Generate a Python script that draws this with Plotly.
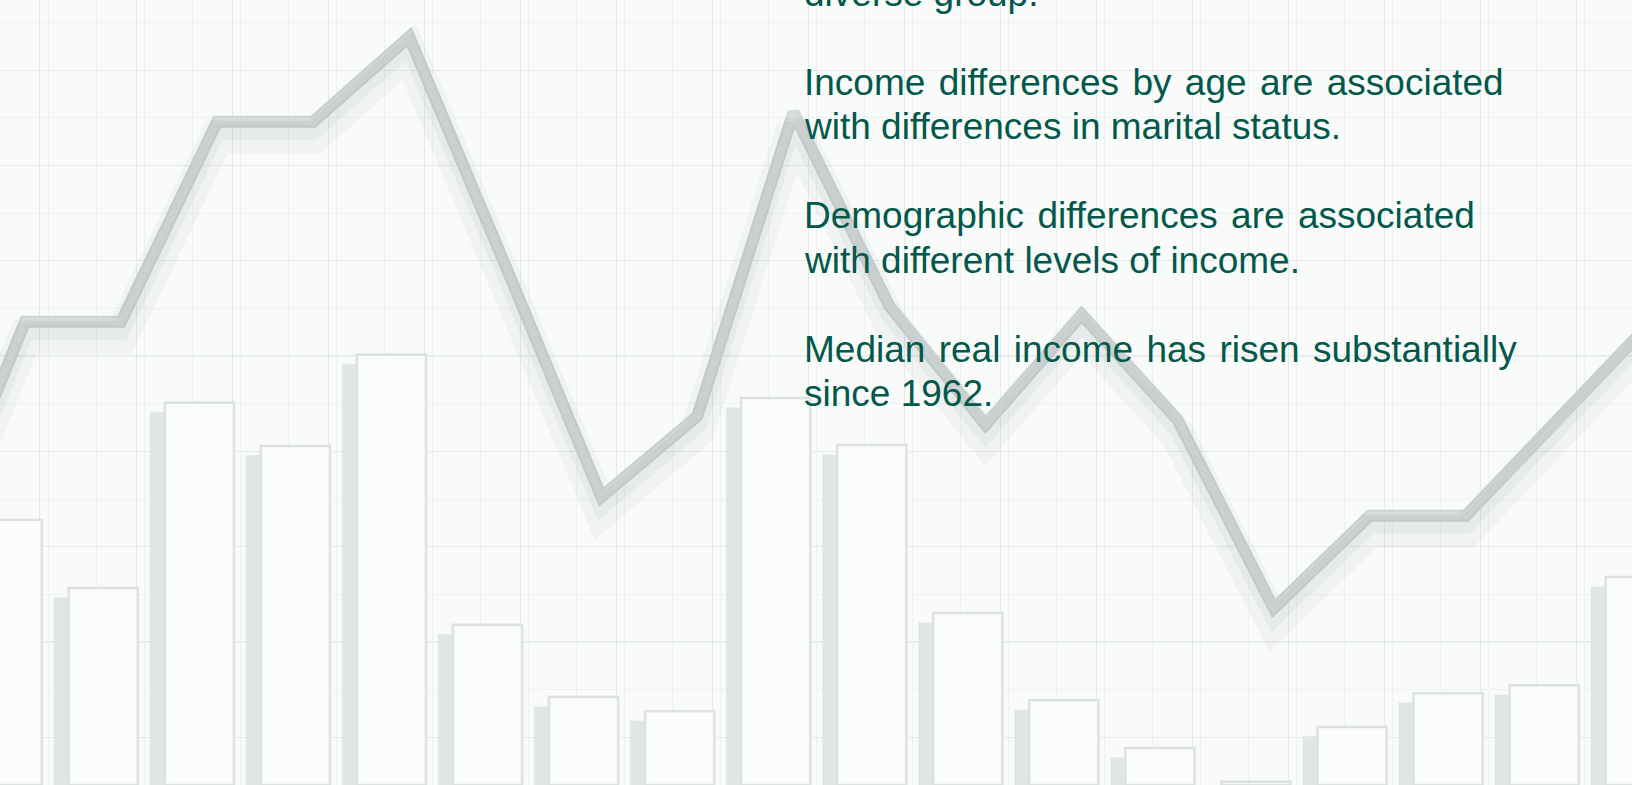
import plotly.graph_objects as go

# ---- data ----
periods = list(range(18))
bar_values = [33.8, 25.1, 48.7, 43.2, 54.8, 20.4, 11.2, 9.4, 49.3, 43.3,
              21.9, 10.8, 4.7, 0.4, 7.4, 11.7, 12.7, 26.5]

line_periods = list(range(-1, 18))
line_values = [28.7, 59.0, 59.0, 84.5, 84.5, 95.3, 66.2, 36.7, 47.0, 85.7,
               61.0, 45.9, 59.9, 46.5, 22.5, 34.3, 34.3, 46.8, 59.9]

text_lines = [
    "diverse group.",
    "Income differences by age are associated",
    "with differences in marital status.",
    "Demographic differences are associated",
    "with different levels of income.",
    "Median real income has risen substantially",
    "since 1962.",
]
justified = [False, True, False, True, False, True, False]
# text row index (blank rows between paragraphs)
text_rows = [0, 2, 3, 5, 6, 8, 9]

# ---- layout constants (pixels) ----
W, H = 1632, 785
PX_PER_X = 96.06            # one period in pixels
PX_PER_Y = H / 100.0        # y axis 0..100 fills the page
x_range = [0, W / PX_PER_X]
line_shift = 25 / PX_PER_X  # line vertices sit a little right of bar centres

BG = "#f9fafa"
TEXT = "#03584a"

fig = go.Figure()

# bar side (3D bevel strip)
bevel = 1.2
fig.add_trace(go.Bar(
    x=periods, y=[v - bevel for v in bar_values],
    offset=-0.44, width=0.17,
    marker=dict(color="#e1e5e5", line=dict(width=0)),
    hoverinfo="skip", showlegend=False,
))
# bar face
fig.add_trace(go.Bar(
    x=periods, y=bar_values,
    offset=-0.285, width=0.72,
    marker=dict(color="#fbfcfc", line=dict(color="#dde2e1", width=2.5)),
    hoverinfo="skip", showlegend=False,
))

# line shadows (same data drawn on shifted axes)
fig.add_trace(go.Scatter(
    x=line_periods, y=line_values, xaxis="x2", yaxis="y3", mode="lines",
    line=dict(color="rgba(80,95,95,0.045)", width=34),
    hoverinfo="skip", showlegend=False,
))
fig.add_trace(go.Scatter(
    x=line_periods, y=line_values, xaxis="x2", yaxis="y2", mode="lines",
    line=dict(color="rgba(80,95,95,0.06)", width=18),
    hoverinfo="skip", showlegend=False,
))
# the line itself
fig.add_trace(go.Scatter(
    x=line_periods, y=line_values, xaxis="x2", yaxis="y", mode="lines",
    line=dict(color="#ced5d4", width=12),
    hoverinfo="skip", showlegend=False,
))
fig.add_trace(go.Scatter(
    x=line_periods, y=line_values, xaxis="x2", yaxis="y", mode="lines",
    line=dict(color="#d7dddc", width=8),
    hoverinfo="skip", showlegend=False,
))

hidden = dict(showticklabels=False, zeroline=False, showline=False, ticks="")

fig.update_layout(
    width=W, height=H,
    margin=dict(l=0, r=0, t=0, b=0),
    paper_bgcolor=BG, plot_bgcolor=BG,
    barmode="overlay",
    showlegend=False,
    hovermode=False,
    xaxis=dict(range=x_range, showgrid=True, gridcolor="#e5e9e9", gridwidth=1,
               tick0=0.416, dtick=1,
               minor=dict(showgrid=True, gridcolor="#eef1f1", gridwidth=1, dtick=0.5),
               **hidden),
    yaxis=dict(range=[0, 100], showgrid=True, gridcolor="#e5e9e9", gridwidth=1,
               tick0=6.1, dtick=12.14,
               minor=dict(showgrid=True, gridcolor="#eef1f1", gridwidth=1, dtick=6.07),
               **hidden),
    xaxis2=dict(range=[x_range[0] - line_shift, x_range[1] - line_shift],
                overlaying="x", showgrid=False, **hidden),
    yaxis2=dict(range=[9 / PX_PER_Y, 100 + 9 / PX_PER_Y],
                overlaying="y", showgrid=False, **hidden),
    yaxis3=dict(range=[15 / PX_PER_Y, 100 + 15 / PX_PER_Y],
                overlaying="y", showgrid=False, **hidden),
)

# ---- text block ----
FONT_SIZE = 37
text_left_px = 803
first_baseline_px = 6.0
line_gap_px = 44.5
baseline_to_center = 0.3465 * FONT_SIZE
for t, j, r in zip(text_lines, justified, text_rows):
    baseline = first_baseline_px + line_gap_px * r
    txt = t.replace(" ", " \u200a") if j else t
    center = baseline - baseline_to_center
    fig.add_annotation(
        x=text_left_px / W, y=1 - center / H, xref="paper", yref="paper",
        xanchor="left", yanchor="middle", showarrow=False, borderpad=0,
        text=txt, align="left",
        font=dict(family="Liberation Sans, Arial, sans-serif", size=FONT_SIZE, color=TEXT),
    )

fig.write_html("out.html", config={"displayModeBar": False, "staticPlot": True})

# remove the browser's default page margin so the figure fills the window
with open("out.html", "r", encoding="utf-8") as f:
    html = f.read()
html = html.replace("<head>", "<head><style>html,body{margin:0;padding:0;overflow:hidden;}</style>", 1)
with open("out.html", "w", encoding="utf-8") as f:
    f.write(html)
